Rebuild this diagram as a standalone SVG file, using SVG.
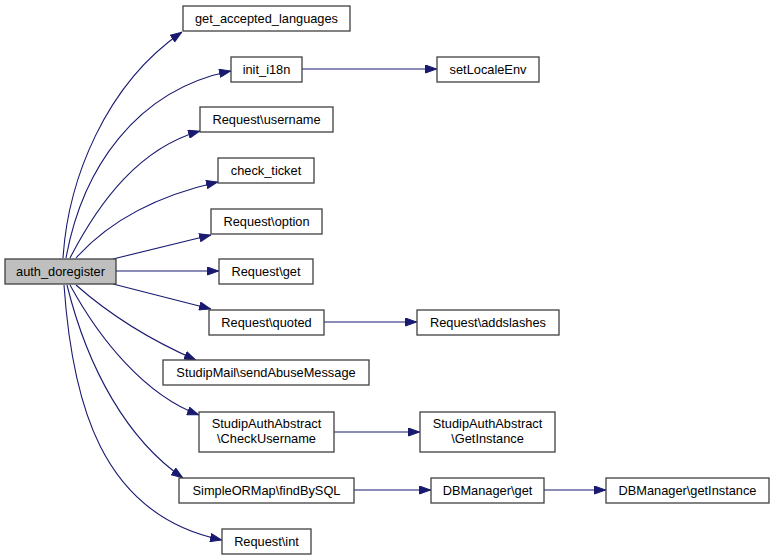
<svg xmlns="http://www.w3.org/2000/svg" width="775" height="560" viewBox="0 0 775 560">
<style>
.n rect{fill:#ffffff;stroke:#404040;stroke-width:1.3}
.n.root rect{fill:#bfbfbf}
.n text{font-family:"Liberation Sans",Arial,sans-serif;font-size:12.8px;fill:#000;text-anchor:middle}
.e path{fill:none;stroke:#191970;stroke-width:1.1}
</style>
<defs>
<marker id="ah" viewBox="0 0 12 9" refX="12" refY="4.5" markerWidth="12" markerHeight="9" markerUnits="userSpaceOnUse" orient="auto">
<path d="M0.5,0.5 L11.5,4.5 L0.5,8.5 Z" fill="#191970" stroke="#191970" stroke-width="1"/>
</marker>
</defs>
<rect width="775" height="560" fill="#ffffff"/>
<g class="e">
<path marker-end="url(#ah)" d="M63,258 C68,180 105,85 182,32"/>
<path marker-end="url(#ah)" d="M66,258 C82,170 135,90 231,71"/>
<path marker-end="url(#ah)" d="M70,258 C100,200 140,148 200,131"/>
<path marker-end="url(#ah)" d="M76,258 C110,220 160,195 218,182"/>
<path marker-end="url(#ah)" d="M113,259 L211,235"/>
<path marker-end="url(#ah)" d="M116,271 L219,271"/>
<path marker-end="url(#ah)" d="M113,284 L211,309"/>
<path marker-end="url(#ah)" d="M76,285 C110,315 150,340 196,360"/>
<path marker-end="url(#ah)" d="M70,285 C100,340 145,395 199,415"/>
<path marker-end="url(#ah)" d="M67,285 C88,370 128,440 183,478"/>
<path marker-end="url(#ah)" d="M64,285 C72,400 100,515 222,540"/>
<path marker-end="url(#ah)" d="M302,69 L437,69"/>
<path marker-end="url(#ah)" d="M324,322 L417,322"/>
<path marker-end="url(#ah)" d="M334,432 L420,432"/>
<path marker-end="url(#ah)" d="M354,490 L431,490"/>
<path marker-end="url(#ah)" d="M544,490 L606,490"/>
</g>
<g id="auth_doregister" class="n root"><rect x="5" y="259" width="111" height="25"/><text x="60.5" y="276">auth_doregister</text></g>
<g id="get_accepted_languages" class="n"><rect x="183" y="6" width="167" height="25"/><text x="266.5" y="23">get_accepted_languages</text></g>
<g id="init_i18n" class="n"><rect x="231" y="57" width="71" height="25"/><text x="266.5" y="74">init_i18n</text></g>
<g id="setLocaleEnv" class="n"><rect x="437" y="57" width="102" height="25"/><text x="488" y="74">setLocaleEnv</text></g>
<g id="Request_username" class="n"><rect x="200" y="107" width="133" height="25"/><text x="266.5" y="124">Request\username</text></g>
<g id="check_ticket" class="n"><rect x="218" y="158" width="96" height="25"/><text x="266" y="175">check_ticket</text></g>
<g id="Request_option" class="n"><rect x="211" y="209" width="111" height="25"/><text x="266.5" y="226">Request\option</text></g>
<g id="Request_get" class="n"><rect x="219" y="259" width="94" height="25"/><text x="266" y="276">Request\get</text></g>
<g id="Request_quoted" class="n"><rect x="209" y="310" width="115" height="25"/><text x="266.5" y="327">Request\quoted</text></g>
<g id="Request_addslashes" class="n"><rect x="417" y="310" width="142" height="25"/><text x="488" y="327">Request\addslashes</text></g>
<g id="StudipMail_sendAbuseMessage" class="n"><rect x="163" y="360" width="206" height="25"/><text x="266" y="377">StudipMail\sendAbuseMessage</text></g>
<g id="StudipAuthAbstract_CheckUsername" class="n"><rect x="199" y="412" width="135" height="40"/><text x="266.5" y="428">StudipAuthAbstract</text><text x="266.5" y="443">\CheckUsername</text></g>
<g id="StudipAuthAbstract_GetInstance" class="n"><rect x="420" y="412" width="135" height="40"/><text x="487.5" y="428">StudipAuthAbstract</text><text x="487.5" y="443">\GetInstance</text></g>
<g id="SimpleORMap_findBySQL" class="n"><rect x="179" y="478" width="175" height="25"/><text x="266.5" y="495">SimpleORMap\findBySQL</text></g>
<g id="DBManager_get" class="n"><rect x="431" y="478" width="113" height="25"/><text x="487.5" y="495">DBManager\get</text></g>
<g id="DBManager_getInstance" class="n"><rect x="606" y="478" width="163" height="25"/><text x="687.5" y="495">DBManager\getInstance</text></g>
<g id="Request_int" class="n"><rect x="222" y="529" width="89" height="25"/><text x="266.5" y="546">Request\int</text></g>
</svg>
